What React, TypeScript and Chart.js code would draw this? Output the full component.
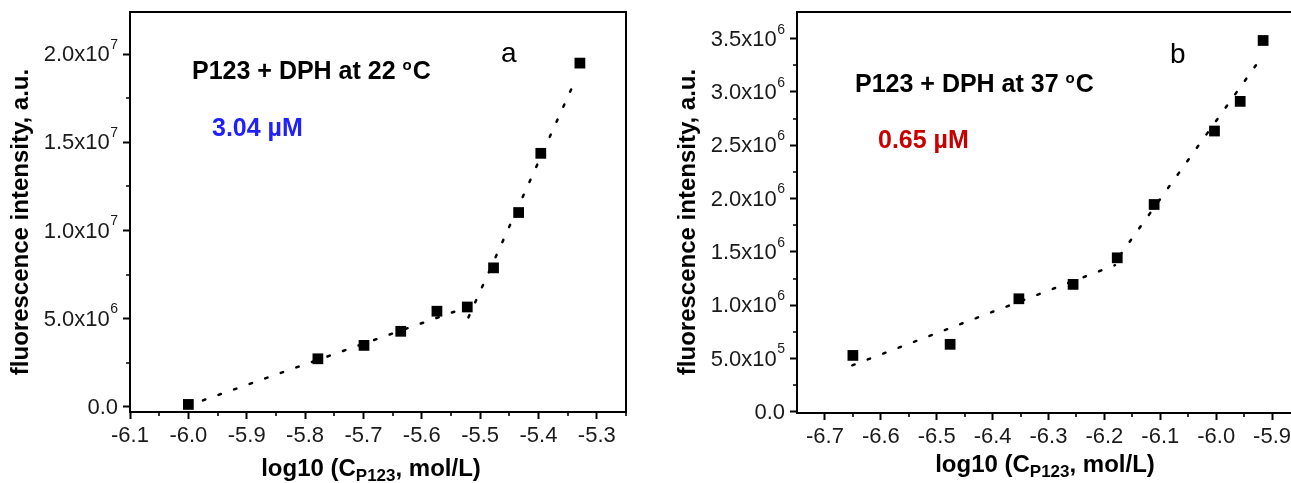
import React, { useEffect, useRef } from "react";
import { Chart, registerables } from "chart.js";

Chart.register(...registerables);

const FONT = '"Liberation Sans", Arial, Helvetica, sans-serif';

// ---------- Panel a : P123 + DPH at 22 °C ----------
const logCA = [-6.0, -5.778, -5.699, -5.636, -5.574, -5.522, -5.477, -5.434, -5.396, -5.329];
const intensityA = [0.13e6, 2.72e6, 3.48e6, 4.28e6, 5.42e6, 5.66e6, 7.88e6, 11.02e6, 14.38e6, 19.5e6];
const fitLowAX = [-5.975, -5.505];
const fitLowAY = [0.36e6, 5.85e6];
const fitHighAX = [-5.52, -5.338];
const fitHighAY = [5.07e6, 18.45e6];
const xTicksA = [-6.1, -6.0, -5.9, -5.8, -5.7, -5.6, -5.5, -5.4, -5.3];
const xTickLabelsA = ["-6.1", "-6.0", "-5.9", "-5.8", "-5.7", "-5.6", "-5.5", "-5.4", "-5.3"];
const yTicksA = [0, 5e6, 1e7, 1.5e7, 2e7];
const yTickMantA = ["0.0", "5.0x10", "1.0x10", "1.5x10", "2.0x10"];
const yTickExpA = ["", "6", "7", "7", "7"];

// ---------- Panel b : P123 + DPH at 37 °C ----------
const logCB = [-6.65, -6.476, -6.353, -6.256, -6.177, -6.111, -6.003, -5.957, -5.916];
const intensityB = [0.53e6, 0.634e6, 1.061e6, 1.196e6, 1.445e6, 1.945e6, 2.634e6, 2.912e6, 3.483e6];
const fitLowBX = [-6.651, -6.181];
const fitLowBY = [0.437e6, 1.376e6];
const fitHighBX = [-6.172, -5.918];
const fitHighBY = [1.47e6, 3.33e6];
const xTicksB = [-6.7, -6.6, -6.5, -6.4, -6.3, -6.2, -6.1, -6.0, -5.9];
const xTickLabelsB = ["-6.7", "-6.6", "-6.5", "-6.4", "-6.3", "-6.2", "-6.1", "-6.0", "-5.9"];
const yTicksB = [0, 0.5e6, 1e6, 1.5e6, 2e6, 2.5e6, 3e6, 3.5e6];
const yTickMantB = ["0.0", "5.0x10", "1.0x10", "1.5x10", "2.0x10", "2.5x10", "3.0x10", "3.5x10"];
const yTickExpB = ["", "5", "6", "6", "6", "6", "6", "6"];

const yTitle = "fluorescence intensity, a.u.";
const xTitleMain = "log10 (C";
const xTitleSub = "P123";
const xTitleEnd = ", mol/L)";

type Panel = {
  canvasLeft: number;
  canvasWidth: number;
  yAxisWidth: number;
  padTop: number;
  padRight: number;
  xAxisHeight: number;
  xMin: number;
  xMax: number;
  yMin: number;
  yMax: number;
  px: number[];
  py: number[];
  fits: { x: number[]; y: number[] }[];
  xTicks: number[];
  xLabels: string[];
  yTicks: number[];
  yMant: string[];
  yExp: string[];
  yTitleX: number;
  yTitleY: number;
  xTitleX: number;
  xTitleY: number;
  label: string;
  labelTemp: string;
  labelPos: [number, number];
  cmc: string;
  cmcColor: string;
  cmcPos: [number, number];
  letter: string;
  letterPos: [number, number];
};

const panels: Panel[] = [
  {
    canvasLeft: 0,
    canvasWidth: 650,
    yAxisWidth: 130,
    padTop: 12,
    padRight: 24,
    xAxisHeight: 71,
    xMin: -6.1,
    xMax: -5.25,
    yMin: -0.3e6,
    yMax: 22.4e6,
    px: logCA,
    py: intensityA,
    fits: [
      { x: fitLowAX, y: fitLowAY },
      { x: fitHighAX, y: fitHighAY },
    ],
    xTicks: xTicksA,
    xLabels: xTickLabelsA,
    yTicks: yTicksA,
    yMant: yTickMantA,
    yExp: yTickExpA,
    yTitleX: 21,
    yTitleY: 222,
    xTitleX: 371,
    xTitleY: 476,
    label: "P123 + DPH at 22 ",
    labelTemp: "C",
    labelPos: [192, 79],
    cmc: "3.04 \u00B5M",
    cmcColor: "#1f1fff",
    cmcPos: [212, 136],
    letter: "a",
    letterPos: [501, 62],
  },
  {
    canvasLeft: 650,
    canvasWidth: 700,
    yAxisWidth: 147,
    padTop: 12,
    padRight: 50,
    xAxisHeight: 70,
    xMin: -6.75,
    xMax: -5.85,
    yMin: -0.01e6,
    yMax: 3.75e6,
    px: logCB,
    py: intensityB,
    fits: [
      { x: fitLowBX, y: fitLowBY },
      { x: fitHighBX, y: fitHighBY },
    ],
    xTicks: xTicksB,
    xLabels: xTickLabelsB,
    yTicks: yTicksB,
    yMant: yTickMantB,
    yExp: yTickExpB,
    yTitleX: 38,
    yTitleY: 222,
    xTitleX: 395,
    xTitleY: 472,
    label: "P123 + DPH at 37 ",
    labelTemp: "C",
    labelPos: [205, 92],
    cmc: "0.65 \u00B5M",
    cmcColor: "#c80000",
    cmcPos: [228, 148],
    letter: "b",
    letterPos: [520, 63],
  },
];

function makeDecor(p: Panel) {
  return {
    id: "decor",
    afterDraw(chart: any) {
      const { ctx, chartArea: ca } = chart;
      const xs = chart.scales.x;
      const ys = chart.scales.y;
      ctx.save();
      ctx.strokeStyle = "#000";
      ctx.lineWidth = 2;
      // top & right frame
      ctx.beginPath();
      ctx.moveTo(ca.left - 1, ca.top);
      ctx.lineTo(ca.right, ca.top);
      ctx.lineTo(ca.right, ca.bottom + 1);
      ctx.stroke();

      // minor ticks
      ctx.lineWidth = 1.6;
      const xStep = p.xTicks[1] - p.xTicks[0];
      const xMinor: number[] = [];
      for (let i = -1; i < p.xTicks.length; i++) {
        const v = p.xTicks[0] + (i + 0.5) * xStep;
        if (v > p.xMin && v < p.xMax) xMinor.push(v);
      }
      ctx.beginPath();
      for (const v of xMinor) {
        const X = Math.round(xs.getPixelForValue(v));
        ctx.moveTo(X, ca.bottom);
        ctx.lineTo(X, ca.bottom + 4);
      }
      const yStep = p.yTicks[1] - p.yTicks[0];
      for (let i = 0; i < p.yTicks.length + 1; i++) {
        const v = p.yTicks[0] + (i + 0.5) * yStep;
        if (v > p.yMin && v < p.yMax) {
          const Y = Math.round(ys.getPixelForValue(v));
          ctx.moveTo(ca.left, Y);
          ctx.lineTo(ca.left - 4, Y);
        }
      }
      ctx.stroke();

      // y tick labels with superscript exponents
      ctx.fillStyle = "#1a1a1a";
      ctx.textBaseline = "middle";
      ctx.textAlign = "right";
      p.yTicks.forEach((v, i) => {
        const Y = ys.getPixelForValue(v);
        let xr = ca.left - 12;
        if (p.yExp[i]) {
          ctx.font = `14px ${FONT}`;
          ctx.fillText(p.yExp[i], xr, Y - 9);
          xr -= ctx.measureText(p.yExp[i]).width + 0.5;
        }
        ctx.font = `22px ${FONT}`;
        ctx.fillText(p.yMant[i], xr, Y + 1);
      });

      // y title
      ctx.save();
      ctx.translate(p.yTitleX, p.yTitleY);
      ctx.rotate(-Math.PI / 2);
      ctx.font = `bold 24px ${FONT}`;
      ctx.fillStyle = "#000";
      ctx.textAlign = "center";
      ctx.textBaseline = "middle";
      ctx.fillText(yTitle, 0, 0);
      ctx.restore();

      // x title with subscript
      ctx.fillStyle = "#000";
      ctx.textBaseline = "alphabetic";
      ctx.textAlign = "left";
      const big = `bold 24px ${FONT}`;
      const small = `bold 17px ${FONT}`;
      ctx.font = big;
      const w1 = ctx.measureText(xTitleMain).width;
      const w3 = ctx.measureText(xTitleEnd).width;
      ctx.font = small;
      const w2 = ctx.measureText(xTitleSub).width;
      let tx = p.xTitleX - (w1 + w2 + w3) / 2;
      ctx.font = big;
      ctx.fillText(xTitleMain, tx, p.xTitleY);
      tx += w1;
      ctx.font = small;
      ctx.fillText(xTitleSub, tx, p.xTitleY + 5);
      tx += w2;
      ctx.font = big;
      ctx.fillText(xTitleEnd, tx, p.xTitleY);

      // annotation: condition label with degree sign as superscript "o"
      ctx.font = `bold 25px ${FONT}`;
      let ax = p.labelPos[0];
      ctx.fillText(p.label, ax, p.labelPos[1]);
      ax += ctx.measureText(p.label).width;
      ctx.font = `bold 15px ${FONT}`;
      ctx.fillText("o", ax, p.labelPos[1] - 9);
      ax += ctx.measureText("o").width + 1;
      ctx.font = `bold 25px ${FONT}`;
      ctx.fillText(p.labelTemp, ax, p.labelPos[1]);

      // CMC value
      ctx.fillStyle = p.cmcColor;
      ctx.font = `bold 25px ${FONT}`;
      ctx.fillText(p.cmc, p.cmcPos[0], p.cmcPos[1]);

      // panel letter
      ctx.fillStyle = "#000";
      ctx.font = `28px ${FONT}`;
      ctx.fillText(p.letter, p.letterPos[0], p.letterPos[1]);

      ctx.restore();
    },
  };
}

function PanelChart({ p }: { p: Panel }) {
  const ref = useRef<HTMLCanvasElement | null>(null);
  useEffect(() => {
    if (!ref.current) return;
    const points = p.px.map((x, i) => ({ x, y: p.py[i] }));
    const fitSets = p.fits.map((f) => ({
      data: f.x.map((x, i) => ({ x, y: f.y[i] })),
      showLine: true,
      borderColor: "#000",
      borderWidth: 2.5,
      borderDash: [2.5, 14],
      borderCapStyle: "round" as const,
      pointRadius: 0,
      fill: false,
    }));
    const chart = new Chart(ref.current, {
      type: "scatter",
      data: {
        datasets: [
          {
            data: points,
            pointStyle: "rect",
            pointRadius: 7.6,
            backgroundColor: "#000",
            borderColor: "#000",
            borderWidth: 0,
            showLine: false,
          },
          ...fitSets,
        ] as any,
      },
      options: {
        animation: false,
        responsive: false,
        events: [],
        layout: { padding: { left: 0, top: p.padTop, right: p.padRight, bottom: 0 } },
        plugins: { legend: { display: false }, tooltip: { enabled: false } },
        scales: {
          x: {
            type: "linear",
            min: p.xMin,
            max: p.xMax,
            afterBuildTicks: (s: any) => {
              s.ticks = p.xTicks.map((v) => ({ value: v }));
            },
            afterFit: (s: any) => {
              s.height = p.xAxisHeight;
            },
            ticks: {
              autoSkip: false,
              maxRotation: 0,
              padding: 4,
              color: "#1a1a1a",
              font: { family: FONT, size: 22 },
              callback: (_v: any, i: number) => p.xLabels[i],
            },
            grid: {
              display: true,
              drawOnChartArea: false,
              drawTicks: true,
              tickLength: 7,
              tickWidth: 2,
              tickColor: "#000",
            },
            border: { display: true, width: 2, color: "#000" },
          },
          y: {
            type: "linear",
            min: p.yMin,
            max: p.yMax,
            afterBuildTicks: (s: any) => {
              s.ticks = p.yTicks.map((v) => ({ value: v }));
            },
            afterFit: (s: any) => {
              s.width = p.yAxisWidth;
            },
            ticks: { display: false },
            grid: {
              display: true,
              drawOnChartArea: false,
              drawTicks: true,
              tickLength: 7,
              tickWidth: 2,
              tickColor: "#000",
            },
            border: { display: true, width: 2, color: "#000" },
          },
        },
      },
      plugins: [makeDecor(p)],
    });
    return () => chart.destroy();
  }, [p]);
  return (
    <canvas
      ref={ref}
      width={p.canvasWidth}
      height={483}
      style={{
        position: "absolute",
        left: p.canvasLeft,
        top: 0,
        width: p.canvasWidth,
        height: 483,
      }}
    />
  );
}

export default function App() {
  return (
    <div
      style={{
        position: "absolute",
        left: 0,
        top: 0,
        width: 1291,
        height: 483,
        overflow: "hidden",
        background: "#fff",
      }}
    >
      {panels.map((p, i) => (
        <PanelChart key={i} p={p} />
      ))}
    </div>
  );
}
